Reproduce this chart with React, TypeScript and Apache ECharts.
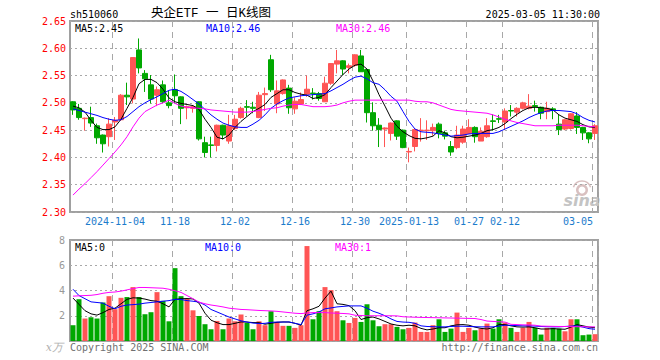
import React, { useEffect, useRef } from "react";
import * as echarts from "echarts";

const dates = [
  "2024-10-24","2024-10-25","2024-10-28","2024-10-29","2024-10-30","2024-10-31","2024-11-01",
  "2024-11-04","2024-11-05","2024-11-06","2024-11-07","2024-11-08","2024-11-11","2024-11-12","2024-11-13","2024-11-14","2024-11-15",
  "2024-11-18","2024-11-19","2024-11-20","2024-11-21","2024-11-22","2024-11-25","2024-11-26","2024-11-27","2024-11-28","2024-11-29",
  "2024-12-02","2024-12-03","2024-12-04","2024-12-05","2024-12-06","2024-12-09","2024-12-10","2024-12-11","2024-12-12","2024-12-13",
  "2024-12-16","2024-12-17","2024-12-18","2024-12-19","2024-12-20","2024-12-23","2024-12-24","2024-12-25","2024-12-26","2024-12-27",
  "2024-12-30","2024-12-31","2025-01-02","2025-01-03","2025-01-06","2025-01-07","2025-01-08","2025-01-09","2025-01-10",
  "2025-01-13","2025-01-14","2025-01-15","2025-01-16","2025-01-17","2025-01-20","2025-01-21","2025-01-22","2025-01-23","2025-01-24",
  "2025-01-27","2025-02-05","2025-02-06","2025-02-07","2025-02-10","2025-02-11",
  "2025-02-12","2025-02-13","2025-02-14","2025-02-17","2025-02-18","2025-02-19","2025-02-20","2025-02-21","2025-02-24","2025-02-25","2025-02-26","2025-02-27","2025-02-28",
  "2025-03-03","2025-03-04","2025-03-05",
];

const tickDates = ["2024-11-04","2024-11-18","2024-12-02","2024-12-16","2024-12-30","2025-01-13","2025-01-27","2025-02-12","2025-03-05"];
const tickLabels = ["2024-11-04","11-18","12-02","12-16","12-30","2025-01-13","01-27","02-12","03-05"];

const opens = [2.502,2.490,2.471,2.473,2.458,2.441,2.438,2.465,2.469,2.514,
2.507,2.597,2.554,2.533,2.514,2.533,2.500,2.524,2.511,2.491,
2.490,2.502,2.427,2.423,2.422,2.459,2.430,2.453,2.473,2.493,
2.492,2.473,2.515,2.579,2.498,2.517,2.527,2.489,2.498,2.516,
2.518,2.517,2.502,2.536,2.571,2.577,2.565,2.569,2.586,2.561,
2.482,2.459,2.452,2.444,2.467,2.450,2.410,2.420,2.449,2.449,
2.449,2.461,2.445,2.420,2.418,2.428,2.444,2.455,2.430,2.438,
2.467,2.471,2.465,2.486,2.483,2.490,2.490,2.495,2.492,2.484,
2.489,2.461,2.452,2.453,2.476,2.455,2.445,2.444];
const closes = [2.487,2.473,2.472,2.463,2.436,2.425,2.461,2.468,2.514,2.511,
2.583,2.564,2.544,2.507,2.524,2.502,2.495,2.513,2.490,2.493,
2.493,2.434,2.409,2.422,2.459,2.441,2.458,2.470,2.490,2.492,
2.490,2.514,2.517,2.524,2.522,2.542,2.491,2.503,2.506,2.525,
2.517,2.508,2.536,2.572,2.577,2.562,2.568,2.588,2.557,2.482,
2.458,2.451,2.454,2.463,2.439,2.418,2.411,2.451,2.450,2.450,
2.455,2.444,2.439,2.410,2.441,2.452,2.455,2.438,2.448,2.458,
2.466,2.470,2.485,2.485,2.490,2.500,2.494,2.493,2.481,2.490,
2.486,2.451,2.469,2.480,2.455,2.445,2.434,2.458];
const lows = [2.478,2.469,2.449,2.456,2.425,2.409,2.420,2.432,2.467,2.496,
2.499,2.554,2.520,2.499,2.494,2.499,2.490,2.499,2.461,2.470,
2.482,2.431,2.400,2.400,2.411,2.433,2.425,2.450,2.471,2.475,
2.481,2.472,2.485,2.520,2.481,2.515,2.480,2.480,2.496,2.511,
2.506,2.504,2.502,2.533,2.554,2.551,2.554,2.566,2.557,2.464,
2.449,2.419,2.419,2.431,2.432,2.417,2.391,2.411,2.429,2.432,
2.440,2.435,2.433,2.403,2.415,2.425,2.443,2.427,2.430,2.436,
2.449,2.463,2.450,2.475,2.475,2.488,2.488,2.484,2.470,2.470,
2.470,2.441,2.450,2.451,2.443,2.432,2.426,2.432];
const highs = [2.503,2.498,2.473,2.493,2.462,2.442,2.472,2.474,2.516,2.537,
2.584,2.618,2.560,2.551,2.530,2.541,2.522,2.552,2.512,2.495,
2.496,2.503,2.438,2.438,2.460,2.460,2.478,2.478,2.493,2.505,
2.502,2.520,2.528,2.588,2.541,2.543,2.533,2.510,2.519,2.550,
2.527,2.520,2.548,2.573,2.597,2.578,2.572,2.589,2.597,2.562,
2.501,2.472,2.455,2.464,2.468,2.451,2.418,2.452,2.472,2.468,
2.462,2.464,2.449,2.430,2.458,2.458,2.470,2.457,2.455,2.472,
2.479,2.478,2.490,2.496,2.492,2.502,2.516,2.504,2.493,2.502,
2.492,2.478,2.470,2.481,2.483,2.456,2.446,2.461];

const ma5 = [2.494,2.491,2.483,2.468,2.455,2.451,2.451,2.456,2.470,2.490,
2.510,2.535,2.543,2.543,2.537,2.525,2.509,2.502,2.499,2.497,
2.495,2.488,2.470,2.455,2.437,2.434,2.441,2.455,2.466,2.475,
2.484,2.490,2.497,2.510,2.517,2.524,2.524,2.519,2.516,2.514,
2.508,2.510,2.515,2.528,2.540,2.552,2.562,2.569,2.571,2.562,
2.540,2.515,2.494,2.472,2.457,2.447,2.440,2.435,2.434,2.436,
2.439,2.449,2.445,2.438,2.436,2.437,2.439,2.441,2.444,2.449,
2.451,2.455,2.462,2.471,2.479,2.486,2.491,2.492,2.491,2.490,
2.487,2.478,2.472,2.469,2.466,2.460,2.456,2.455];
const ma10 = [2.489,2.486,2.483,2.480,2.477,2.473,2.470,2.468,2.469,2.475,
2.484,2.493,2.500,2.506,2.511,2.517,2.523,2.525,2.521,2.514,
2.506,2.498,2.488,2.478,2.470,2.463,2.459,2.456,2.455,2.455,
2.461,2.468,2.478,2.490,2.498,2.504,2.509,2.511,2.513,2.514,
2.515,2.516,2.517,2.522,2.528,2.534,2.541,2.547,2.549,2.544,
2.537,2.534,2.524,2.512,2.503,2.484,2.466,2.452,2.447,2.446,
2.445,2.443,2.441,2.439,2.440,2.441,2.443,2.444,2.444,2.444,
2.444,2.447,2.452,2.457,2.462,2.467,2.473,2.478,2.482,2.485,
2.486,2.486,2.485,2.484,2.480,2.473,2.468,2.465];
const ma30 = [2.331,2.342,2.352,2.363,2.374,2.386,2.398,2.410,2.423,2.438,
2.456,2.472,2.484,2.490,2.496,2.500,2.505,2.499,2.494,2.492,
2.491,2.490,2.489,2.487,2.486,2.485,2.484,2.483,2.483,2.483,
2.484,2.486,2.488,2.490,2.491,2.494,2.496,2.497,2.497,2.495,
2.493,2.493,2.493,2.494,2.496,2.500,2.503,2.505,2.505,2.505,
2.505,2.505,2.505,2.505,2.505,2.505,2.505,2.503,2.502,2.502,
2.500,2.496,2.492,2.488,2.486,2.485,2.484,2.483,2.482,2.481,
2.478,2.474,2.470,2.467,2.464,2.462,2.460,2.458,2.458,2.458,
2.458,2.459,2.459,2.459,2.459,2.458,2.457,2.456];

const volumes = [1.25,3.31,1.78,1.88,1.78,3.05,3.55,2.52,3.42,3.48,
4.27,3.48,2.12,2.28,3.87,3.18,1.56,5.77,3.55,3.36,
2.43,1.98,1.33,0.93,1.59,0.93,1.78,1.56,2.10,1.43,
0.93,1.56,1.25,2.36,1.51,1.20,1.20,1.04,1.25,7.52,
1.72,2.36,4.27,4.03,2.36,1.64,1.43,1.83,1.51,2.91,
1.64,1.17,1.33,1.33,1.12,0.93,1.04,1.46,0.72,0.72,
1.25,1.72,0.72,0.98,2.25,0.72,1.04,0.85,0.98,1.38,
0.98,1.72,1.46,1.04,0.72,1.04,1.51,1.04,0.51,1.04,
1.04,0.98,0.77,1.72,1.72,0.46,0.51,0.54];
const volMa5 = [3.40,2.90,2.40,2.15,2.05,2.25,2.50,2.60,2.95,3.30,
3.42,3.40,3.32,3.20,3.15,2.95,2.70,3.30,3.35,3.36,
3.33,3.00,2.20,1.65,1.45,1.30,1.30,1.40,1.51,1.50,
1.46,1.45,1.33,1.40,1.48,1.51,1.50,1.40,1.25,2.40,
2.55,2.75,3.40,3.95,2.95,2.90,2.80,2.40,1.70,1.85,
1.90,1.75,1.55,1.35,1.25,1.20,1.25,1.20,1.00,0.88,
0.95,1.05,1.05,1.20,1.28,1.30,1.25,1.10,1.00,0.95,
1.05,1.30,1.30,1.20,1.12,1.10,1.12,1.05,0.95,0.95,
0.98,0.95,0.93,1.10,1.30,1.20,1.10,1.05];
const volMa10 = [4.10,3.60,3.35,3.10,3.05,3.00,2.75,2.55,2.75,2.85,
2.88,2.92,3.00,3.05,3.10,3.15,3.20,3.30,3.28,3.20,
3.15,3.08,2.85,2.50,2.30,2.10,1.90,1.75,1.60,1.50,
1.42,1.38,1.40,1.48,1.50,1.50,1.51,1.40,1.30,2.05,
2.15,2.30,2.55,2.62,2.70,2.74,2.78,2.78,2.78,2.60,
2.36,2.20,2.00,1.75,1.55,1.50,1.48,1.40,1.20,1.15,
1.13,1.12,1.12,1.15,1.17,1.17,1.15,1.13,1.12,1.12,
1.12,1.18,1.25,1.24,1.22,1.20,1.20,1.18,1.15,1.13,
1.12,1.12,1.15,1.18,1.20,1.10,0.98,0.93];
const volMa30 = [3.55,3.58,3.60,3.62,3.68,3.78,3.85,3.88,3.95,4.05,
4.15,4.24,4.24,4.22,4.20,4.18,4.10,3.98,3.85,3.60,
3.35,3.08,2.95,2.85,2.78,2.70,2.60,2.55,2.50,2.48,
2.45,2.42,2.40,2.38,2.35,2.30,2.25,2.20,2.17,2.22,
2.25,2.25,2.25,2.22,2.20,2.18,2.15,2.04,2.02,2.00,
2.00,2.00,2.00,2.00,1.99,1.92,1.90,1.88,1.87,1.86,
1.85,1.84,1.83,1.82,1.81,1.80,1.79,1.78,1.70,1.58,
1.55,1.52,1.50,1.32,1.30,1.28,1.27,1.25,1.18,1.17,
1.16,1.15,1.15,1.14,1.13,1.13,1.12,1.12];

const UP = "#ff5555";
const DOWN = "#00a800";
const MONO = "DejaVu Sans Mono";
const GRIDC = "#a8a8a8";

export default function App() {
  const ref = useRef<HTMLDivElement>(null);
  useEffect(() => {
    const chart = echarts.init(ref.current!, null, { renderer: "svg" });
    const candles = opens.map((o, i) => [o, closes[i], lows[i], highs[i]]);
    const volData = volumes.map((v, i) => ({
      value: v,
      itemStyle: { color: closes[i] >= opens[i] ? UP : DOWN },
    }));
    const tickIdx = tickDates.map((d) => dates.indexOf(d));
    const isTick = (index: number) => tickIdx.indexOf(index) >= 0;
    const splitX = {
      show: true,
      interval: (index: number) => isTick(index),
      lineStyle: { color: GRIDC, type: [6, 5], width: 1 },
    };
    const lineSeries = (name: string, data: number[], color: string, xi: number) => ({
      type: "line",
      name,
      data,
      xAxisIndex: xi,
      yAxisIndex: xi,
      showSymbol: false,
      symbol: "none",
      silent: true,
      lineStyle: { color, width: 1 },
      z: 5,
    });
    const txt = (text: string, x: number, y: number, fill: string, extra: any = {}) => ({
      type: "text",
      x,
      y,
      silent: true,
      style: {
        text,
        fill,
        font: `10px '${MONO}'`,
        verticalAlign: "middle",
        align: "left",
        ...extra,
      },
    });
    const option: any = {
      animation: false,
      backgroundColor: "#ffffff",
      grid: [
        { left: 70, top: 21, width: 528, height: 191, show: true, borderColor: "#a0a0a0", borderWidth: 2, backgroundColor: "transparent" },
        { left: 70, top: 240, width: 528, height: 101, show: true, borderColor: "#a0a0a0", borderWidth: 2, backgroundColor: "transparent" },
      ],
      xAxis: [
        {
          type: "category",
          gridIndex: 0,
          data: dates,
          boundaryGap: true,
          axisLine: { show: false },
          axisTick: { show: false },
          splitLine: splitX,
          axisLabel: {
            show: true,
            interval: (index: number) => isTick(index),
            margin: 4,
            color: "#1c7ccc",
            fontFamily: MONO,
            fontSize: 10,
            formatter: (value: string) => {
              const k = tickDates.indexOf(value);
              if (k < 0) return "";
              if (k === tickDates.length - 1) return "{e|" + tickLabels[k] + "}";
              return tickLabels[k];
            },
            rich: {
              e: { color: "#1c7ccc", fontFamily: MONO, fontSize: 10, padding: [0, 34, 0, 0] },
            },
          },
        },
        {
          type: "category",
          gridIndex: 1,
          data: dates,
          boundaryGap: true,
          axisLine: { show: false },
          axisTick: { show: false },
          axisLabel: { show: false },
          splitLine: splitX,
        },
      ],
      yAxis: [
        {
          type: "value",
          gridIndex: 0,
          min: 2.3,
          max: 2.65,
          interval: 0.05,
          axisLine: { show: false },
          axisTick: { show: false },
          axisLabel: {
            color: "#ff0000",
            fontFamily: MONO,
            fontSize: 10,
            margin: 4,
            formatter: (v: number) => v.toFixed(2),
          },
          splitLine: { show: true, lineStyle: { color: GRIDC, type: [2, 3], width: 1 } },
        },
        {
          type: "value",
          gridIndex: 1,
          min: 0,
          max: 8,
          interval: 2,
          axisLine: { show: false },
          axisTick: { show: false },
          axisLabel: {
            color: "#999999",
            fontFamily: MONO,
            fontSize: 10,
            margin: 5,
            formatter: (v: number) => (v === 0 ? "" : String(v)),
          },
          splitLine: { show: true, lineStyle: { color: GRIDC, type: [2, 3], width: 1 } },
        },
      ],
      series: [
        {
          type: "candlestick",
          name: "K",
          xAxisIndex: 0,
          yAxisIndex: 0,
          data: candles,
          barWidth: 5,
          silent: true,
          itemStyle: {
            color: UP,
            color0: DOWN,
            borderColor: UP,
            borderColor0: DOWN,
            borderWidth: 1,
          },
          z: 3,
        },
        lineSeries("MA5", ma5, "#000000", 0),
        lineSeries("MA10", ma10, "#0000ff", 0),
        lineSeries("MA30", ma30, "#ff00ff", 0),
        {
          type: "bar",
          name: "VOL",
          xAxisIndex: 1,
          yAxisIndex: 1,
          data: volData,
          barWidth: 5,
          silent: true,
          z: 3,
        },
        lineSeries("VMA5", volMa5, "#000000", 1),
        lineSeries("VMA10", volMa10, "#0000ff", 1),
        lineSeries("VMA30", volMa30, "#ff00ff", 1),
      ],
      graphic: [
        txt("sh510060", 70, 14, "#000000"),
        {
          type: "text",
          x: 151,
          y: 14,
          silent: true,
          style: {
            text: "央企ETF 一 日K线图",
            fill: "#000000",
            font: "12.5px 'Liberation Mono', 'Noto Sans CJK SC'",
            verticalAlign: "middle",
            align: "left",
          },
        },
        txt("2025-03-05 11:30:00", 600, 14, "#000000", { align: "right" }),
        txt("MA5:2.45", 75, 28, "#000000"),
        txt("MA10:2.46", 206, 28, "#0000ff"),
        txt("MA30:2.46", 336, 28, "#ff00ff"),
        txt("MA5:0", 75, 247, "#000000"),
        txt("MA10:0", 205, 247, "#0000ff"),
        txt("MA30:1", 335, 247, "#ff00ff"),
        txt("Copyright 2025 SINA.COM", 70, 347, "#707070"),
        txt("http://finance.sina.com.cn", 598, 347, "#707070", { align: "right" }),
        {
          type: "text",
          x: 63,
          y: 347,
          silent: true,
          style: {
            text: "x万",
            fill: "#b0b0b0",
            font: "italic 11px 'DejaVu Serif'",
            verticalAlign: "middle",
            align: "right",
          },
        },
        {
          type: "group",
          silent: true,
          children: [
            { type: "ring", shape: { cx: 582, cy: 190, r: 6, r0: 3.5 }, style: { fill: "#d9c0c0" } },
            { type: "arc", shape: { cx: 582, cy: 190, r: 9, startAngle: Math.PI * 1.1, endAngle: Math.PI * 1.9 }, style: { stroke: "#d9c0c0", lineWidth: 1.5, fill: "none" } },
            {
              type: "text",
              x: 582,
              y: 200,
              style: {
                text: "sina",
                fill: "#c4c4c4",
                font: "italic bold 16px 'DejaVu Sans'",
                verticalAlign: "middle",
                align: "center",
              },
            },
          ],
        },
      ],
    };
    chart.setOption(option);
    return () => chart.dispose();
  }, []);
  return (
    <div
      ref={ref}
      style={{ position: "absolute", left: 0, top: 0, width: 660, height: 360, background: "#ffffff" }}
    />
  );
}
